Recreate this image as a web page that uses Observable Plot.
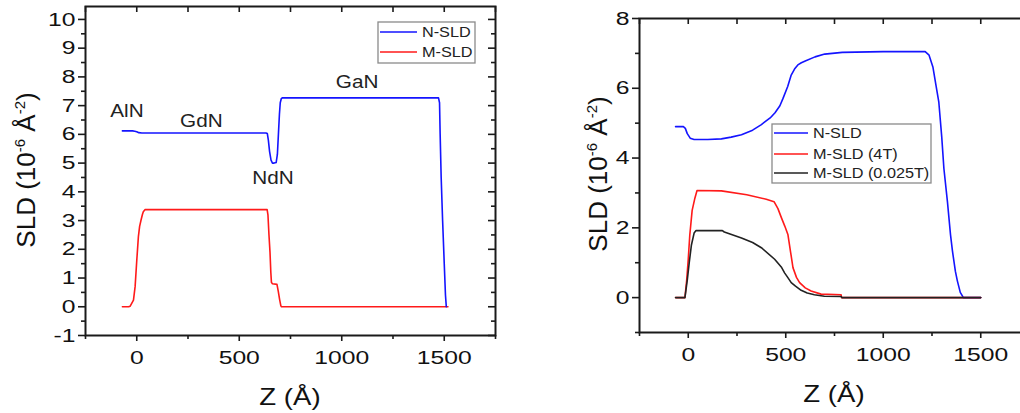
<!DOCTYPE html>
<html>
<head>
<meta charset="utf-8">
<script src="https://cdn.jsdelivr.net/npm/d3@7"></script>
<script src="https://cdn.jsdelivr.net/npm/@observablehq/plot@0.6"></script>
<style>
  html, body { margin: 0; padding: 0; background: #fff; }
  #wrap { position: relative; width: 1020px; height: 413px; overflow: hidden; }
  #left, #right { position: absolute; top: 0; }
  #left { left: 0; width: 510px; }
  #right { left: 530px; width: 530px; }
  #wrap svg { overflow: visible; max-width: none !important; }
</style>
</head>
<body>
<div id="wrap"><div id="left"></div><div id="right"></div></div>
<script>
// ---- Left panel: GdN / NdN / GaN stack, SLD profiles -------------------
const leftNz = [-70, -20, -10, 0, 10, 25, 630, 637, 642, 648, 655, 662, 670, 680, 686, 691, 696, 700, 705, 710, 1472, 1477, 1480, 1485, 1492, 1500, 1506, 1510];
const leftNv = [6.12, 6.12, 6.11, 6.09, 6.06, 6.05, 6.05, 6.03, 5.8, 5.4, 5.1, 5.0, 5.0, 5.02, 5.3, 6.0, 6.7, 7.1, 7.24, 7.27, 7.27, 7.1, 6.0, 4.5, 3.0, 1.5, 0.4, 0.0];
const leftMz = [-70, -40, -32, -16, -8, 0, 8, 14, 21, 28, 32, 40, 636, 640, 645, 650, 654, 657, 662, 684, 690, 697, 703, 706, 1518];
const leftMv = [0, 0, 0.02, 0.23, 0.7, 1.6, 2.44, 2.8, 3.02, 3.22, 3.31, 3.38, 3.38, 3.2, 2.5, 1.9, 1.2, 0.85, 0.8, 0.78, 0.55, 0.25, 0.03, 0, 0];
const layerNames = ["AlN", "GdN", "NdN", "GaN"];
const layerZ = [-48, 315, 665, 1075];
const layerY = [6.62, 6.25, 4.27, 7.63];

// ---- Right panel: N-SLD and field-dependent M-SLD ----------------------
const rightNz = [-65, -25, -15, -5, 10, 30, 100, 170, 220, 273, 330, 375, 420, 445, 470, 486, 510, 528, 545, 562, 580, 600, 650, 700, 790, 1000, 1215, 1235, 1255, 1270, 1285, 1300, 1311, 1329, 1345, 1355, 1370, 1380, 1395, 1411, 1500];
const rightNv = [4.9, 4.9, 4.85, 4.7, 4.57, 4.53, 4.53, 4.55, 4.6, 4.67, 4.8, 4.96, 5.15, 5.3, 5.5, 5.71, 6.05, 6.38, 6.55, 6.67, 6.73, 6.78, 6.9, 6.98, 7.03, 7.05, 7.05, 6.95, 6.6, 6.1, 5.6, 4.6, 3.7, 2.76, 1.8, 1.33, 0.75, 0.48, 0.15, 0, 0];
const right4Tz = [-65, -17, -8, 0, 8, 20, 34, 45, 170, 300, 400, 440, 460, 477, 495, 511, 525, 537, 555, 571, 600, 630, 681, 784, 786, 1500];
const right4Tv = [0, 0, 0.5, 1.1, 1.8, 2.5, 2.85, 3.07, 3.06, 2.95, 2.82, 2.75, 2.55, 2.3, 2.05, 1.81, 1.3, 0.86, 0.58, 0.43, 0.28, 0.19, 0.1, 0.08, 0, 0];
const rightLowz = [-65, -17, -5, 5, 16, 30, 40, 175, 185, 273, 330, 375, 443, 477, 494, 510, 528, 550, 579, 610, 647, 698, 784, 788, 1500];
const rightLowv = [0, 0, 0.5, 1.0, 1.5, 1.85, 1.92, 1.92, 1.88, 1.71, 1.58, 1.43, 1.1, 0.88, 0.71, 0.58, 0.43, 0.33, 0.21, 0.13, 0.08, 0.04, 0.03, 0, 0];

// ---- Axis ticks -------------------------------------------------------
const zMajor = [0, 500, 1000, 1500];
const zMinor = [-250, 250, 750, 1250, 1750];
const leftYMajor = [-1, 0, 1, 2, 3, 4, 5, 6, 7, 8, 9, 10];
const leftYMinor = [-0.5, 0.5, 1.5, 2.5, 3.5, 4.5, 5.5, 6.5, 7.5, 8.5, 9.5];
const rightYMajor = [0, 2, 4, 6, 8];
const rightYMinor = [-1, 1, 3, 5, 7];

const colors = { n: "#1414ff", m: "#ff1a1a", low: "#222222" };
const FONT = "'Liberation Sans', Arial, sans-serif";
const INK = "#1a1a1a";

const pairs = (zs, vs) => zs.map((z, i) => ({ z, v: vs[i] }));

// Outward ticks on bottom/left with labels, inward mirrored ticks on top/right
function axes(yMajor, yMinor, plotW, plotH) {
  const common = { stroke: INK, strokeWidth: 1.6, label: null };
  const tickStyle = { stroke: INK, strokeWidth: 1.6 };
  return [
    Plot.axisX({ ...common, anchor: "bottom", ticks: zMajor, tickSize: 6, tickPadding: 9, tickFormat: d => String(d) }),
    Plot.axisX({ ...common, anchor: "bottom", ticks: zMinor, tickSize: 4, tickFormat: () => "" }),
    Plot.axisY({ ...common, anchor: "left", ticks: yMajor, tickSize: 7, tickPadding: 3, tickFormat: d => String(d) }),
    Plot.axisY({ ...common, anchor: "left", ticks: yMinor, tickSize: 4, tickFormat: () => "" }),
    Plot.tickX(zMajor.concat(zMinor), { ...tickStyle, x: d => d, insetBottom: plotH - 6 }),
    Plot.tickY(yMajor, { ...tickStyle, y: d => d, insetLeft: plotW - 7 }),
    Plot.tickY(yMinor, { ...tickStyle, y: d => d, insetLeft: plotW - 4 }),
    Plot.frame({ stroke: INK, strokeWidth: 2 })
  ];
}

// Widen text horizontally around its anchor point
function widen(sel, s) {
  sel.each(function () {
    const t = this.getAttribute("transform") || "";
    this.setAttribute("transform", `${t} scale(${s},1)`);
  });
}

function yTitle(svg, x, y) {
  const t = svg.append("text")
    .attr("transform", `translate(${x},${y}) rotate(-90)`)
    .attr("text-anchor", "middle")
    .attr("font-family", FONT)
    .attr("font-size", 26)
    .attr("fill", "#111");
  t.append("tspan").text("SLD (10");
  t.append("tspan").attr("dy", -10).attr("font-size", 15).text("-6");
  t.append("tspan").attr("dy", 10).text(" Å");
  t.append("tspan").attr("dy", -10).attr("font-size", 15).text("-2");
  t.append("tspan").attr("dy", 10).text(")");
}

function xTitle(svg, x, y) {
  svg.append("text")
    .attr("transform", `translate(${x},${y}) scale(1.2,1)`)
    .attr("text-anchor", "middle")
    .attr("font-family", FONT)
    .attr("font-size", 23)
    .attr("fill", "#111")
    .text("Z (Å)");
}

function legend(svg, x, y, w, h, items, lineStart, lineEnd, textX, rowY) {
  const g = svg.append("g");
  g.append("rect").attr("x", x).attr("y", y).attr("width", w).attr("height", h)
    .attr("fill", "#fff").attr("stroke", "#8a8a8a").attr("stroke-width", 1.3);
  items.forEach((it, i) => {
    g.append("line").attr("x1", lineStart).attr("x2", lineEnd)
      .attr("y1", rowY[i]).attr("y2", rowY[i])
      .attr("stroke", it.color).attr("stroke-width", 1.6);
    g.append("text").attr("transform", `translate(${textX},${rowY[i]}) scale(1.12,1)`)
      .attr("dy", "0.36em")
      .attr("text-anchor", "start")
      .attr("font-family", FONT).attr("font-size", 14.5).attr("fill", "#222")
      .text(it.label);
  });
}

// ---- Left plot ---------------------------------------------------------
const L = { width: 510, height: 413, marginLeft: 85, marginRight: 15, marginTop: 6, marginBottom: 78 };
const leftPlot = Plot.plot({
  ...L,
  style: { fontFamily: FONT, fontSize: "19px", color: "#111", background: "transparent" },
  x: { domain: [-250, 1750] },
  y: { domain: [-1, 10.45] },
  marks: [
    Plot.line(pairs(leftMz, leftMv), { x: "z", y: "v", stroke: colors.m, strokeWidth: 1.6 }),
    Plot.line(pairs(leftNz, leftNv), { x: "z", y: "v", stroke: colors.n, strokeWidth: 1.6 }),
    Plot.text(layerNames.map((name, i) => ({ name, z: layerZ[i], v: layerY[i] })),
      { x: "z", y: "v", text: "name", fontSize: 18.5, fill: "#222", lineAnchor: "bottom", textAnchor: "middle" }),
    ...axes(leftYMajor, leftYMinor, L.width - L.marginLeft - L.marginRight, L.height - L.marginTop - L.marginBottom)
  ]
});
document.getElementById("left").appendChild(leftPlot);

// ---- Right plot --------------------------------------------------------
const R = { width: 530, height: 413, marginLeft: 109, marginRight: 31, marginTop: 18, marginBottom: 81 };
const rightPlot = Plot.plot({
  ...R,
  style: { fontFamily: FONT, fontSize: "19px", color: "#111", background: "transparent" },
  x: { domain: [-250, 1750] },
  y: { domain: [-1, 8] },
  marks: [
    Plot.line(pairs(rightNz, rightNv), { x: "z", y: "v", stroke: colors.n, strokeWidth: 1.6 }),
    Plot.line(pairs(right4Tz, right4Tv), { x: "z", y: "v", stroke: colors.m, strokeWidth: 1.6 }),
    Plot.line(pairs(rightLowz, rightLowv), { x: "z", y: "v", stroke: colors.low, strokeWidth: 1.6 }),
    ...axes(rightYMajor, rightYMinor, R.width - R.marginLeft - R.marginRight, R.height - R.marginTop - R.marginBottom)
  ]
});
document.getElementById("right").appendChild(rightPlot);

// ---- Text widening, titles, legends -------------------------------------
for (const p of [leftPlot, rightPlot]) {
  widen(d3.select(p).selectAll('g[aria-label$="tick label"] text'), 1.3);
}
widen(d3.select(leftPlot).selectAll('g[aria-label="text"] text'), 1.12);

const ls = d3.select(leftPlot);
yTitle(ls, 35, 170);
xTitle(ls, 290, 405);
legend(ls, 378, 22, 97, 41,
  [{ label: "N-SLD", color: colors.n }, { label: "M-SLD", color: colors.m }],
  380, 417, 422, [32, 52]);

const rs = d3.select(rightPlot);
yTitle(rs, 77, 174);
xTitle(rs, 304, 402);
legend(rs, 242, 124, 159, 59,
  [{ label: "N-SLD", color: colors.n }, { label: "M-SLD (4T)", color: colors.m }, { label: "M-SLD (0.025T)", color: colors.low }],
  244, 278, 283, [133, 154, 173]);
</script>
</body>
</html>
